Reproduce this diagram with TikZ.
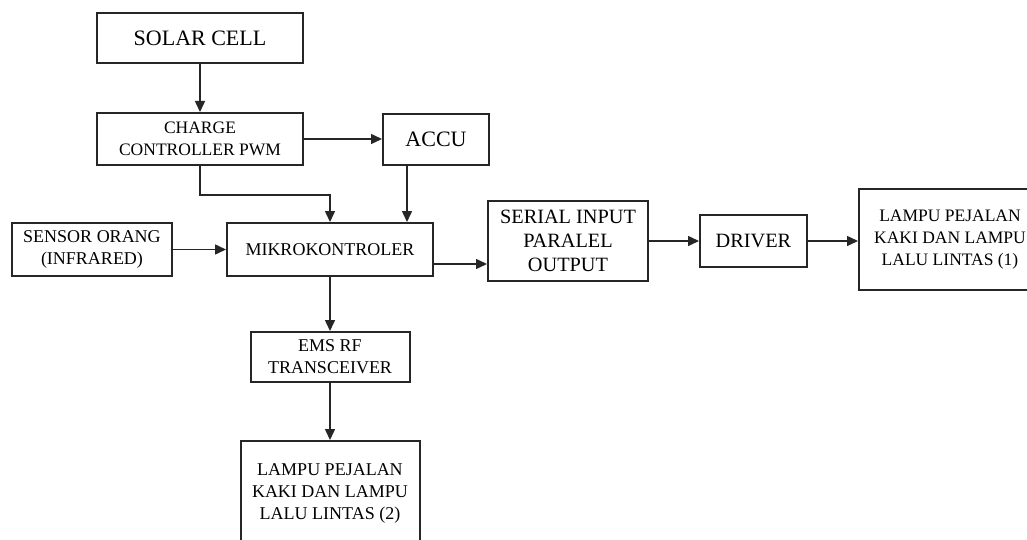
\documentclass[tikz,border=0pt]{standalone}
\usepackage{fontspec}
\setmainfont{Liberation Serif}
\usetikzlibrary{arrows.meta}
\tikzset{
  blk/.style={draw=black!85, line width=2pt, fill=white, inner sep=0pt, align=center, anchor=center},
  fA/.style={font=\fontsize{22}{26}\selectfont},
  fB/.style={font=\fontsize{18}{22}\selectfont},
  fC/.style={font=\fontsize{20.3}{24}\selectfont},
  fD/.style={font=\fontsize{17.5}{22}\selectfont},
  conn/.style={draw=black!85, line width=1.5pt},
  arr/.style={conn, -{Triangle[length=11pt,width=10pt]}},
}
\begin{document}
\begin{tikzpicture}[x=1pt,y=-1pt]
\useasboundingbox (0,0) rectangle (1027,540);
\clip (0,0) rectangle (1027,540);
\fill[white] (0,0) rectangle (1027,540);
% blocks
\node[blk,fA,minimum width=206pt,minimum height=50pt] (solar) at (200,38) {SOLAR CELL};
\node[blk,fD,minimum width=206pt,minimum height=52pt] (charge) at (200,139) {CHARGE\\CONTROLLER PWM};
\node[blk,fA,minimum width=106pt,minimum height=51pt] (accu) at (436,139.5) {ACCU};
\node[blk,fB,minimum width=160pt,minimum height=53pt] (sensor) at (92,249.5) {SENSOR ORANG\\(INFRARED)};
\node[blk,fB,minimum width=206pt,minimum height=53pt] (mikro) at (330,249.5) {MIKROKONTROLER};
\node[blk,fC,minimum width=160pt,minimum height=80pt] (sipo) at (568,241) {SERIAL INPUT\\PARALEL\\OUTPUT};
\node[blk,fC,minimum width=107pt,minimum height=52pt] (driver) at (753.5,241) {DRIVER};
\node[blk,fD,minimum width=182pt,minimum height=101pt] (lampu1) at (950,239.5) {LAMPU PEJALAN\\KAKI DAN LAMPU\\LALU LINTAS (1)};
\node[blk,fB,minimum width=159pt,minimum height=50pt] (ems) at (330,357) {EMS RF\\TRANSCEIVER};
\node[blk,fB,minimum width=179pt,minimum height=104pt] (lampu2) at (330,493) {LAMPU PEJALAN\\KAKI DAN LAMPU\\LALU LINTAS (2)};
% helper coordinates
\coordinate (bend) at (200,195);
\coordinate (accux) at (407,0);
\coordinate (sipoy) at (0,264);
% connectors
\draw[arr] (solar.south) -- (charge.north);
\draw[arr] (charge.east) -- (accu.west |- charge.east);
\draw[arr] (charge.south) -- (bend) -- (bend -| mikro.north) -- (mikro.north);
\draw[arr] (accu.south -| accux) -- (mikro.north -| accux);
\draw[arr] (sensor.east) -- (mikro.west);
\draw[arr] (mikro.east |- sipoy) -- (sipo.west |- sipoy);
\draw[arr] (sipo.east) -- (driver.west);
\draw[arr] (driver.east) -- (lampu1.west |- driver.east);
\draw[arr] (mikro.south) -- (ems.north);
\draw[arr] (ems.south) -- (lampu2.north);
\end{tikzpicture}
\end{document}
